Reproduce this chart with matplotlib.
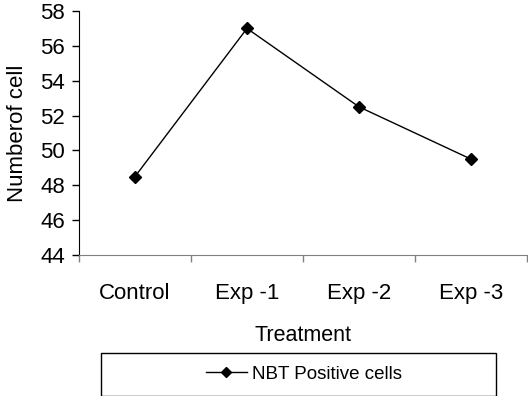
import matplotlib.pyplot as plt
from matplotlib.patches import Rectangle

plt.rcParams['font.family'] = ['Liberation Sans', 'DejaVu Sans']

# data
categories = ['Control', 'Exp -1', 'Exp -2', 'Exp -3']
nbt_positive = [48.5, 57.0, 52.5, 49.5]
series_name = 'NBT Positive cells'

W, H = 528, 396
fig = plt.figure(figsize=(W / 100, H / 100), dpi=100)
ax = fig.add_axes([79 / W, 1 - 255 / H, 448 / W, 244 / H])

x = list(range(len(categories)))
ax.plot(x, nbt_positive, color='black', linewidth=1, marker='D',
        markersize=6.6, label=series_name)

ax.set_xlim(-0.5, len(categories) - 0.5)
ax.set_ylim(44, 58)
ax.set_yticks(range(44, 59, 2))

ax.set_xticks(x)
ax.set_xticklabels(categories)
ax.set_xticks([i - 0.5 for i in range(len(categories) + 1)], minor=True)
ax.tick_params(axis='x', which='major', length=0, pad=20, labelsize=16)
ax.tick_params(axis='x', which='minor', length=5, width=1, color='#808080')
ax.tick_params(axis='y', length=5, width=1, color='black', labelsize=16, pad=5)

ax.spines['top'].set_visible(False)
ax.spines['right'].set_visible(False)
ax.spines['bottom'].set_color('#808080')
ax.spines['left'].set_color('black')

ax.set_xlabel('Treatment', fontsize=15.5, labelpad=15)
ax.set_ylabel('Numberof cell', fontsize=16, labelpad=9)

# legend box below the plot
fig.patches.append(Rectangle((100.5 / W, 1 - 395.5 / H), 395 / W, 43 / H,
                             transform=fig.transFigure, fill=False,
                             edgecolor='black', linewidth=1))
h, l = ax.get_legend_handles_labels()
fig.legend(h, l, loc='center', bbox_to_anchor=(304 / W, 1 - 374 / H),
           frameon=False, fontsize=13.5, handlelength=2.2, handletextpad=0.3,
           markerscale=0.75)

fig.savefig('out.png', dpi=100)
